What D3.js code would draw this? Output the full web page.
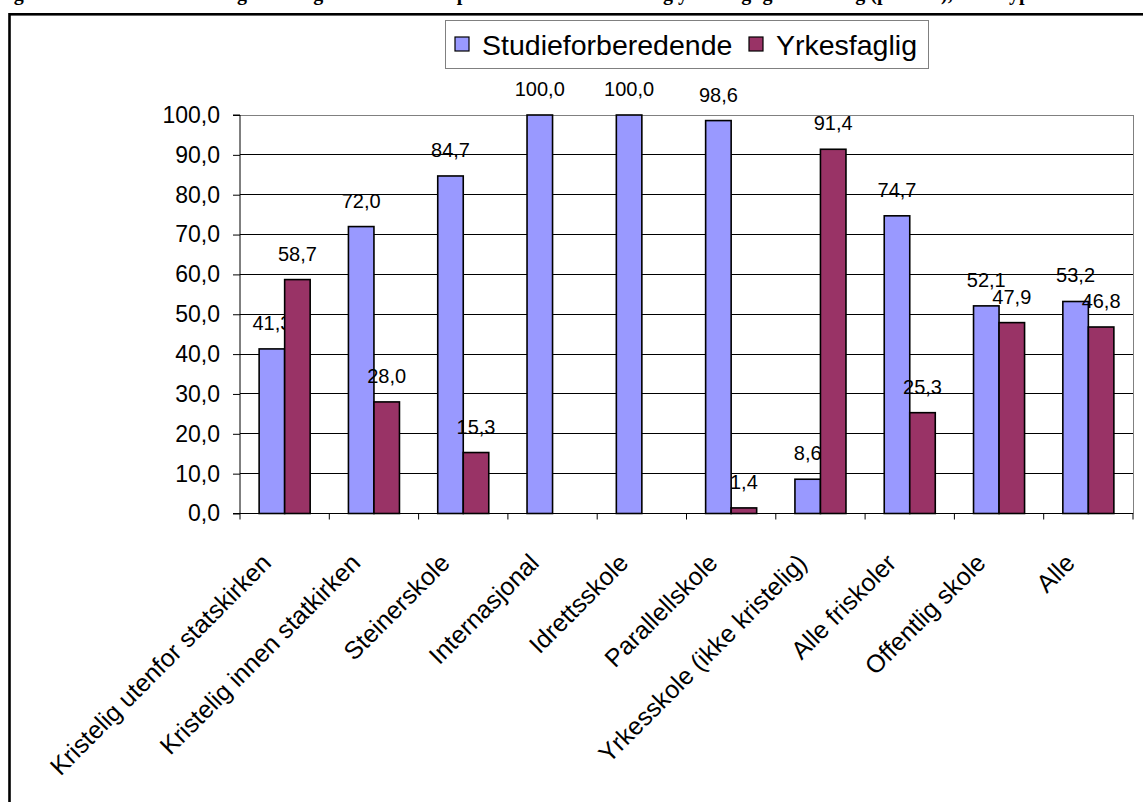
<!DOCTYPE html>
<html>
<head>
<meta charset="utf-8">
<script src="https://cdn.jsdelivr.net/npm/d3@7"></script>
<style>
html,body{margin:0;padding:0;background:#fff;}
svg{display:block;}
text{font-family:"Liberation Sans",Arial,sans-serif;fill:#000;}
</style>
</head>
<body>
<svg id="chart" width="1143" height="802"></svg>
<script>
const categories = ["Kristelig utenfor statskirken","Kristelig innen statkirken","Steinerskole","Internasjonal","Idrettsskole","Parallellskole","Yrkesskole (ikke kristelig)","Alle friskoler","Offentlig skole","Alle"];
const seriesNames = ["Studieforberedende","Yrkesfaglig"];
const studieValues = [41.3,72.0,84.7,100.0,100.0,98.6,8.6,74.7,52.1,53.2];
const yrkesValues = [58.7,28.0,15.3,null,null,1.4,91.4,25.3,47.9,46.8];
const yTicks = [0,10,20,30,40,50,60,70,80,90,100];
const colors = ["#9999FF","#993366"];
const titleText = "Figur 5.4 Elever i friskoler og offentlige skoler fordelt på studieforberedende og yrkesfaglig utdanning (prosent), etter type skole";

const svg = d3.select("#chart");
const L = 240, R = 1133, T = 115, B = 513.5;

// title (cut off at the top edge, as in the reference)
svg.append("text").attr("x", -4).attr("y", -0.5)
  .style("font-family","'Liberation Serif','Times New Roman',serif")
  .style("font-weight","bold").style("font-size","20px")
  .text(titleText);

// outer frame
svg.append("rect").attr("x",9.5).attr("y",14.3).attr("width",1145).attr("height",800)
  .attr("fill","none").attr("stroke","#000").attr("stroke-width",2.6);

const x0 = d3.scaleBand().domain(categories).range([L,R]).paddingInner(0).paddingOuter(0);
const x1 = d3.scaleBand().domain(seriesNames).range([0,x0.step()]).paddingInner(0).paddingOuter(0.75);
const y = d3.scaleLinear().domain([0,100]).range([B,T]);

// gridlines
svg.append("g").selectAll("line").data(yTicks.filter(d=>d>0)).join("line")
  .attr("x1",L).attr("x2",R).attr("y1",d=>y(d)).attr("y2",d=>y(d))
  .attr("stroke",d=>d===100?"#808080":"#000").attr("stroke-width",1).attr("shape-rendering","crispEdges");
// plot right border
svg.append("line").attr("x1",R).attr("x2",R).attr("y1",T).attr("y2",B)
  .attr("stroke","#808080").attr("shape-rendering","crispEdges");

// bars
const rows = categories.map((c,i)=>({cat:c, vals:[studieValues[i], yrkesValues[i]]}));
const g = svg.append("g");
rows.forEach(r=>{
  r.vals.forEach((v,j)=>{
    if(v===null) return;
    const bx = x0(r.cat)+x1(seriesNames[j]);
    g.append("rect").attr("x",bx).attr("y",y(v)).attr("width",x1.bandwidth()).attr("height",y(0)-y(v))
      .attr("fill",colors[j]).attr("stroke","#000").attr("stroke-width",1.6);
    g.append("text").attr("x",bx+x1.bandwidth()/2).attr("y",y(v)-19)
      .attr("text-anchor","middle").style("font-size","20px")
      .text(d3.format(".1f")(v).replace(".",","));
  });
});

// y axis
const yAxis = d3.axisLeft(y).tickValues(yTicks).tickSize(7).tickPadding(13)
  .tickFormat(d=>d3.format(".1f")(d).replace(".",","));
const ya = svg.append("g").attr("transform",`translate(${L},0)`).call(yAxis);
ya.selectAll("text").style("font-size","23px").style("font-family","'Liberation Sans',Arial,sans-serif");
ya.selectAll("path,line").attr("stroke","#000");
ya.select(".domain").attr("d",`M-7,${T}H0V${B}H-7`);

// x axis
const xa = svg.append("g").attr("transform",`translate(0,${B})`);
xa.append("line").attr("x1",L).attr("x2",R).attr("y1",0).attr("y2",0).attr("stroke","#000");
const bounds = categories.map(c=>x0(c)).concat([R]);
xa.selectAll("line.tick").data(bounds).join("line").attr("class","tick")
  .attr("x1",d=>d).attr("x2",d=>d).attr("y1",0).attr("y2",6).attr("stroke","#000");
xa.selectAll("text").data(categories).join("text")
  .attr("text-anchor","end").style("font-size","25px")
  .attr("transform",d=>`translate(${x0(d)+x0.step()/2-12},${51}) rotate(-45)`)
  .text(d=>d);

// legend
const lg = svg.append("g");
lg.append("rect").attr("x",445.5).attr("y",20.5).attr("width",483).attr("height",48)
  .attr("fill","#fff").attr("stroke","#808080");
const legX = [455,749];
seriesNames.forEach((s,j)=>{
  lg.append("rect").attr("x",legX[j]).attr("y",37).attr("width",14).attr("height",14)
    .attr("fill",colors[j]).attr("stroke","#000").attr("stroke-width",1.2);
  lg.append("text").attr("x",legX[j]+27).attr("y",55).style("font-size","28.5px").text(s);
});
</script>
</body>
</html>
